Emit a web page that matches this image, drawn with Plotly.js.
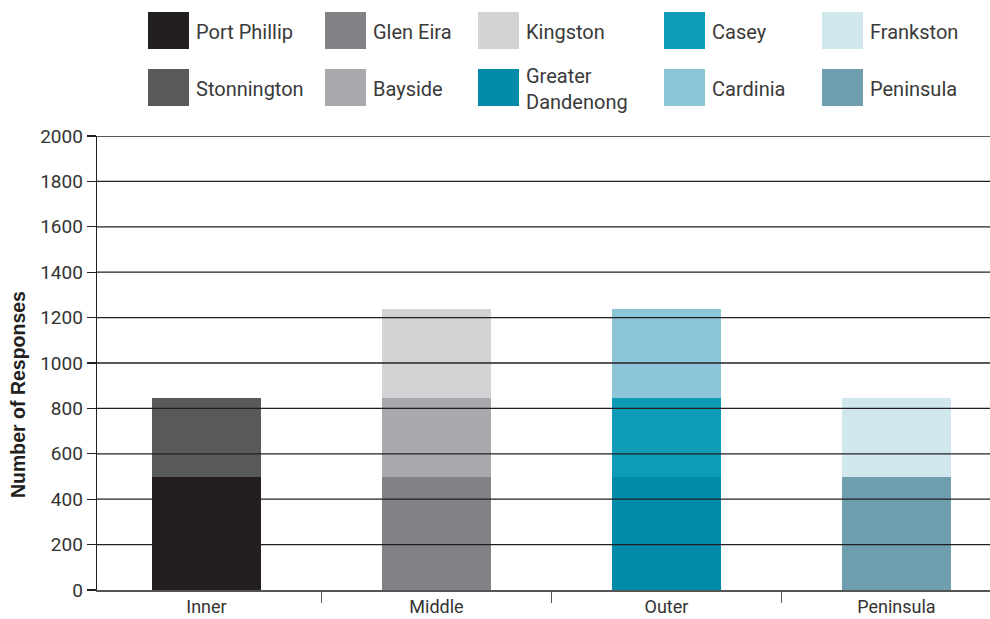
<!DOCTYPE html>
<html>
<head>
<meta charset="utf-8">
<script src="https://cdn.plot.ly/plotly-3.0.1.min.js"></script>
<style>
  html, body { margin: 0; padding: 0; background: #fff; }
  #chart { width: 990px; height: 619px; }
</style>
</head>
<body>
<div id="chart"></div>
<script>
// Regions along the x axis
const regions = ['Inner', 'Middle', 'Outer', 'Peninsula'];

// Councils, drawn bottom-to-top within each region's stack
const councils = ['Port Phillip', 'Glen Eira', 'Greater Dandenong', 'Peninsula',
                  'Stonnington', 'Bayside', 'Casey', 'Frankston',
                  'Kingston', 'Cardinia'];
const councilRegion = ['Inner', 'Middle', 'Outer', 'Peninsula',
                       'Inner', 'Middle', 'Outer', 'Peninsula',
                       'Middle', 'Outer'];
const responses = [500, 500, 500, 500,
                   345, 345, 345, 345,
                   395, 395];
const councilColors = ['#231f20', '#808285', '#008ba8', '#6f9fae',
                       '#58595b', '#a7a9ac', '#0e9bb5', '#d1e7ee',
                       '#d1d3d4', '#8dc5d8'];

// Legend layout: two rows of five councils
const legendRows = [
  ['Port Phillip', 'Glen Eira', 'Kingston', 'Casey', 'Frankston'],
  ['Stonnington', 'Bayside', 'Greater Dandenong', 'Cardinia', 'Peninsula']
];
const legendLabels = {'Greater Dandenong': 'Greater<br>Dandenong'};

const yTicks = [0, 200, 400, 600, 800, 1000, 1200, 1400, 1600, 1800, 2000];
const yTitle = 'Number of Responses';

const W = 990, H = 619;
const M = {l: 97, r: 0, t: 136, b: 29};
const plotW = W - M.l - M.r, plotH = H - M.t - M.b;
const px = x => (x - M.l) / plotW;
const py = y => (H - M.b - y) / plotH;

const traces = councils.map((name, i) => ({
  type: 'bar',
  name: name,
  x: [councilRegion[i]],
  y: [responses[i]],
  width: 0.474,
  marker: {color: councilColors[i], line: {width: 0}},
  showlegend: false,
  hoverinfo: 'name+y'
}));

const shapes = [];
const annotations = [];

// Gridlines sit on top of the bars
yTicks.slice(1).forEach(v => {
  shapes.push({
    type: 'line', xref: 'paper', yref: 'y',
    x0: 0, x1: 1, y0: v, y1: v,
    line: {color: '#231f20', width: 1.3},
    layer: 'above'
  });
});

// Custom legend with large square swatches
const colX = [148, 325, 478, 664, 822];
const rowY = [12, 69];
const swW = 41, swH = 37;
legendRows.forEach((row, r) => {
  row.forEach((name, c) => {
    const idx = councils.indexOf(name);
    const x0 = colX[c], y0 = rowY[r];
    shapes.push({
      type: 'rect', xref: 'paper', yref: 'paper',
      x0: px(x0), x1: px(x0 + swW), y0: py(y0 + swH), y1: py(y0),
      fillcolor: councilColors[idx], line: {width: 0}
    });
    annotations.push({
      xref: 'paper', yref: 'paper',
      x: px(x0 + swW + 5), y: py(y0 + swH / 2 + (name === 'Peninsula' ? 2 : 1)),
      xanchor: 'left', yanchor: 'middle',
      text: legendLabels[name] || name,
      showarrow: false, align: 'left',
      font: {family: 'Roboto, Arial, sans-serif', size: 20, color: '#3a3a3a'}
    });
  });
});

// Vertical axis title, set slightly below the plot's middle
annotations.push({
  xref: 'paper', yref: 'paper',
  x: px(18), y: py(395),
  xanchor: 'center', yanchor: 'middle',
  text: '<b>' + yTitle + '</b>',
  textangle: -90,
  showarrow: false,
  font: {family: 'Liberation Sans, Arial, sans-serif', size: 19.5, color: '#231f20'}
});

const layout = {
  width: W, height: H,
  margin: M,
  paper_bgcolor: '#ffffff',
  plot_bgcolor: '#ffffff',
  barmode: 'stack',
  bargap: 0,
  font: {family: 'Roboto, Arial, sans-serif', color: '#333'},
  xaxis: {
    type: 'category',
    categoryorder: 'array',
    categoryarray: regions,
    range: [-0.476, 3.407],
    showgrid: false,
    zeroline: false,
    showline: true,
    linecolor: '#555',
    linewidth: 1.5,
    ticks: 'outside',
    tickson: 'boundaries',
    ticklen: 11,
    tickcolor: '#555',
    tickwidth: 1.2,
    tickfont: {family: 'Roboto, Arial, sans-serif', size: 18, color: '#333'}
  },
  yaxis: {
    range: [0, 2000],
    tickvals: yTicks,
    ticktext: yTicks.map(String),
    showgrid: false,
    zeroline: false,
    showline: true,
    linecolor: '#231f20',
    linewidth: 1.3,
    ticks: 'outside',
    ticklen: 9,
    tickcolor: '#231f20',
    tickwidth: 1.2,
    tickfont: {family: 'Roboto, Arial, sans-serif', size: 19, color: '#333'}
  },
  shapes: shapes,
  annotations: annotations
};

Plotly.newPlot('chart', traces, layout, {displayModeBar: false, staticPlot: true});
</script>
</body>
</html>
